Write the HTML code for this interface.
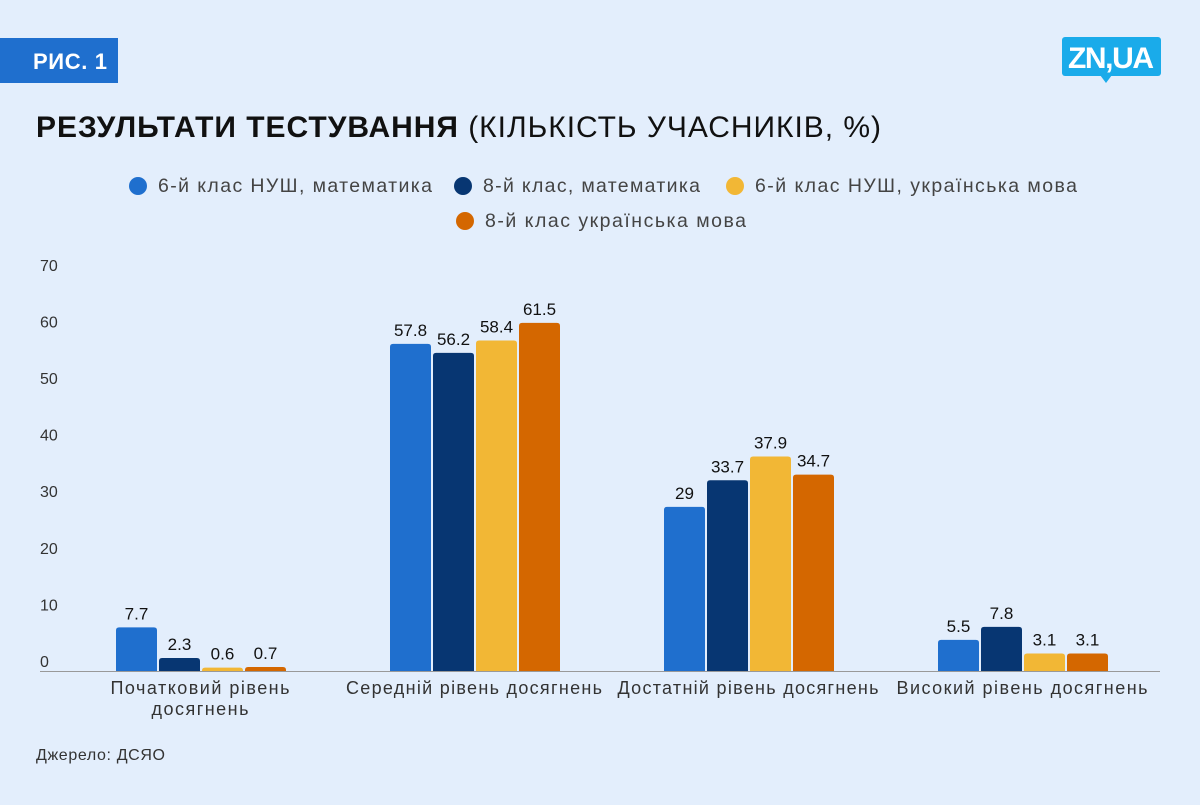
<!DOCTYPE html>
<html><head><meta charset="utf-8"><style>
body{margin:0;width:1200px;height:800px;background:#e3eefc;font-family:"Liberation Sans","DejaVu Sans",sans-serif;overflow:hidden}
</style></head><body>
<svg width="1200" height="800" xmlns="http://www.w3.org/2000/svg">
<rect x="0" y="38" width="118" height="45" fill="#1f6fce"/>
<text x="33" y="69" fill="#fff" font-size="22" font-weight="bold" textLength="74">РИС. 1</text>
<g>
<rect x="1062" y="37" width="99" height="39" rx="3" fill="#1aabea"/>
<polygon points="1100,75 1112,75 1106,83" fill="#1aabea"/>
<text x="1111" y="68" fill="#fff" font-size="30" font-weight="bold" text-anchor="middle" textLength="86">ZN,UA</text>
</g>
<text x="36" y="137" font-size="30" fill="#111" textLength="845"><tspan font-weight="bold">РЕЗУЛЬТАТИ ТЕСТУВАННЯ</tspan> (КІЛЬКІСТЬ УЧАСНИКІВ, %)</text>
<g id="legend"></g>
<g id="axes"></g>
<g id="bars"></g>
<text x="36" y="760" font-size="16" fill="#333" textLength="129">Джерело: ДСЯО</text>
</svg>
<script>
const categories=[["Початковий рівень","досягнень"],["Середній рівень досягнень"],["Достатній рівень досягнень"],["Високий рівень досягнень"]];
const seriesNames=["6-й клас НУШ, математика","8-й клас, математика","6-й клас НУШ, українська мова","8-й клас українська мова"];
const colors=["#1f6fce","#073672","#f2b735","#d46700"];
const math6=[7.7,57.8,29,5.5];
const math8=[2.3,56.2,33.7,7.8];
const ukr6=[0.6,58.4,37.9,3.1];
const ukr8=[0.7,61.5,34.7,3.1];
const yTicks=[0,10,20,30,40,50,60,70];
const series=[math6,math8,ukr6,ukr8];
const NS="http://www.w3.org/2000/svg";
const base=671,scale=5.66;
const y=v=>base-v*scale;
const xc=i=>200+i*274;
function mk(t,a,p){const e=document.createElementNS(NS,t);for(const k in a)e.setAttribute(k,a[k]);p.appendChild(e);return e;}
const axes=document.getElementById('axes'),bars=document.getElementById('bars'),leg=document.getElementById('legend');
yTicks.forEach(t=>{const e=mk('text',{x:40,y:y(t)-4,'font-size':16,fill:'#333'},axes);e.textContent=t;

});
const ax=mk('line',{x1:40,x2:1160,y1:base+0.5,y2:base+0.5,stroke:'#999','stroke-width':1},axes);


const catW=[[179,97],[256],[261],[251]];
categories.forEach((c,i)=>{c.forEach((l,j)=>{const e=mk('text',{x:xc(i),y:694+j*21,'font-size':18,fill:'#333','text-anchor':'middle',textLength:catW[i][j]},axes);e.textContent=l;

});
series.forEach((s,k)=>{const bx=xc(i)-84+k*43;const v=s[i];
const r=mk('path',{d:`M${bx},${base} V${y(v)+3} Q${bx},${y(v)} ${bx+3},${y(v)} H${bx+38} Q${bx+41},${y(v)} ${bx+41},${y(v)+3} V${base} Z`,fill:colors[k]},bars);


const t=mk('text',{x:bx+20.5,y:y(v)-8,'font-size':17,fill:'#111','text-anchor':'middle'},bars);t.textContent=v;

});});
const lp=[[129,192,274],[454,192,217],[726,192,322],[456,227,261]];
seriesNames.forEach((n,k)=>{const g=mk('g',{},leg);


mk('circle',{cx:lp[k][0]+9,cy:lp[k][1]-6,r:9,fill:colors[k]},g);
const t=mk('text',{x:lp[k][0]+29,y:lp[k][1],'font-size':19.5,fill:'#444',textLength:lp[k][2]},g);t.textContent=n;});
</script>
</body></html>
